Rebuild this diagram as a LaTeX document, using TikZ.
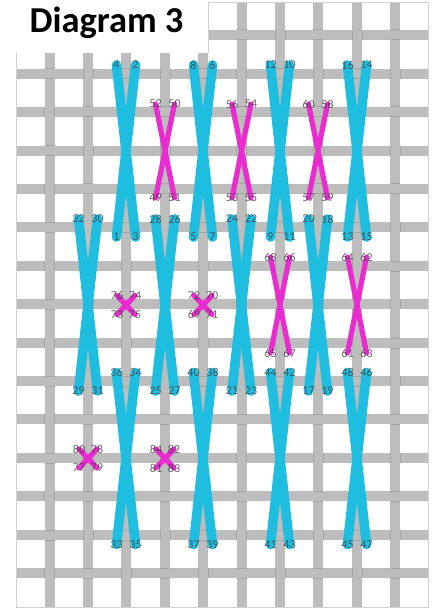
\documentclass[tikz,border=0pt]{standalone}
\usepackage{fontspec}
\setmainfont{Carlito}
\definecolor{thread}{HTML}{BDBDBD}
\definecolor{threadedge}{HTML}{9E9E9E}
\definecolor{framec}{HTML}{D0D0D0}
\definecolor{blue1}{HTML}{1FBDE0}
\definecolor{pink1}{HTML}{E92CCF}
\definecolor{lab}{HTML}{404040}
\tikzset{
  threadh/.style={thread,line width=10pt},
  threade/.style={threadedge,line width=1pt,opacity=.8},
  bluest/.style={blue1,line width=9.6pt,line cap=round},
  pinkst/.style={pink1,line width=5.2pt,line cap=round},
  numl/.style={font=\fontsize{12}{12}\selectfont,text=lab,text opacity=.8,inner sep=0pt},
  titlel/.style={font=\fontsize{36.5}{36.5}\selectfont\bfseries,text=black,draw=none,inner sep=0pt,anchor=base},
  framel/.style={framec,line width=.8pt}
}
\begin{document}
\begin{tikzpicture}[x=1pt,y=-1pt]
\useasboundingbox (0,0) rectangle (435,612);
\fill[white] (0,0) rectangle (435,612);
\def\cols{49.5,88,126,165,203,241.5,280,318,357,395}
\def\rows{35,74,112,151,189,227,266,304,343,381,419,458,496,535,573}
% horizontal threads
\foreach \y in \rows {\draw[threadh] (16,\y) -- (428,\y);}
% vertical threads, then the crossings where the horizontal passes over
\foreach \x [count=\i] in \cols {\draw[threadh] (\x,2) -- (\x,607);}
\foreach \x [count=\i] in \cols {
  \foreach \y [count=\j] in \rows {
    \pgfmathtruncatemacro{\wv}{mod(\i+\j,2)}
    \ifnum\wv=1
      \draw[threadh] (\x-6,\y) -- (\x+6,\y);
      \draw[threade] (\x-5,\y-5) -- (\x+5,\y-5);
      \draw[threade] (\x-5,\y+5) -- (\x+5,\y+5);
    \else
      \draw[threade] (\x-5,\y-5) -- (\x-5,\y+5);
      \draw[threade] (\x+5,\y-5) -- (\x+5,\y+5);
    \fi
  }
}
% frame and title patch
\draw[framel] (16,607) -- (428,607) -- (428,2) -- (208,2) -- (208,53);
\draw[framel] (16,53) -- (16,607);
\fill[white] (0,0) rectangle (207.6,53);
\node[titlel] (title) at (106.5,33) {Diagram 3};
% stitch ends
\newcommand{\blueX}[6]{%
  \coordinate (p#1) at (#5-9.5,#6);
  \coordinate (p#2) at (#5+9.5,#6);
  \coordinate (p#3) at (#5-9.5,#6+172);
  \coordinate (p#4) at (#5+9.5,#6+172);
  \draw[bluest] (p#3) -- (p#2);
  \draw[bluest] (p#4) -- (p#1);
}
\newcommand{\pinkX}[8]{%
  \coordinate (p#1) at (#5-#7,#6);
  \coordinate (p#2) at (#5+#7,#6);
  \coordinate (p#3) at (#5-#7,#6+#8);
  \coordinate (p#4) at (#5+#7,#6+#8);
  \draw[pinkst] (p#3) -- (p#2);
  \draw[pinkst] (p#4) -- (p#1);
}
\blueX{4}{2}{1}{3}{126}{65}
\blueX{8}{6}{5}{7}{203}{65}
\blueX{12}{10}{9}{11}{280}{65}
\blueX{16}{14}{13}{15}{357}{65}
\blueX{32}{30}{29}{31}{88}{219}
\blueX{28}{26}{25}{27}{165}{219}
\blueX{24}{22}{21}{23}{241.5}{219}
\blueX{20}{18}{17}{19}{318}{219}
\blueX{36}{34}{33}{35}{126}{372.5}
\blueX{40}{38}{37}{39}{203}{372.5}
\blueX{44}{42}{41}{43}{280}{372.5}
\blueX{48}{46}{45}{47}{357}{372.5}
\pinkX{52}{50}{49}{51}{165}{104}{9.5}{94}
\pinkX{56}{54}{53}{55}{241.5}{104}{9.5}{94}
\pinkX{60}{58}{57}{59}{318}{104}{9.5}{94}
\pinkX{68}{66}{65}{67}{280}{257}{9.5}{96}
\pinkX{64}{62}{61}{63}{357}{257}{9.5}{96}
\pinkX{76}{74}{73}{75}{126}{295.5}{9}{19}
\pinkX{72}{70}{69}{71}{203}{295.5}{9}{19}
\pinkX{80}{78}{77}{79}{88}{449}{9}{19}
\pinkX{84}{82}{81}{83}{165}{449}{9}{19}
% number labels on the stitch ends
\foreach \n in {1,...,84} {\node[numl] (n\n) at (p\n) {\n};}
\end{tikzpicture}
\end{document}
